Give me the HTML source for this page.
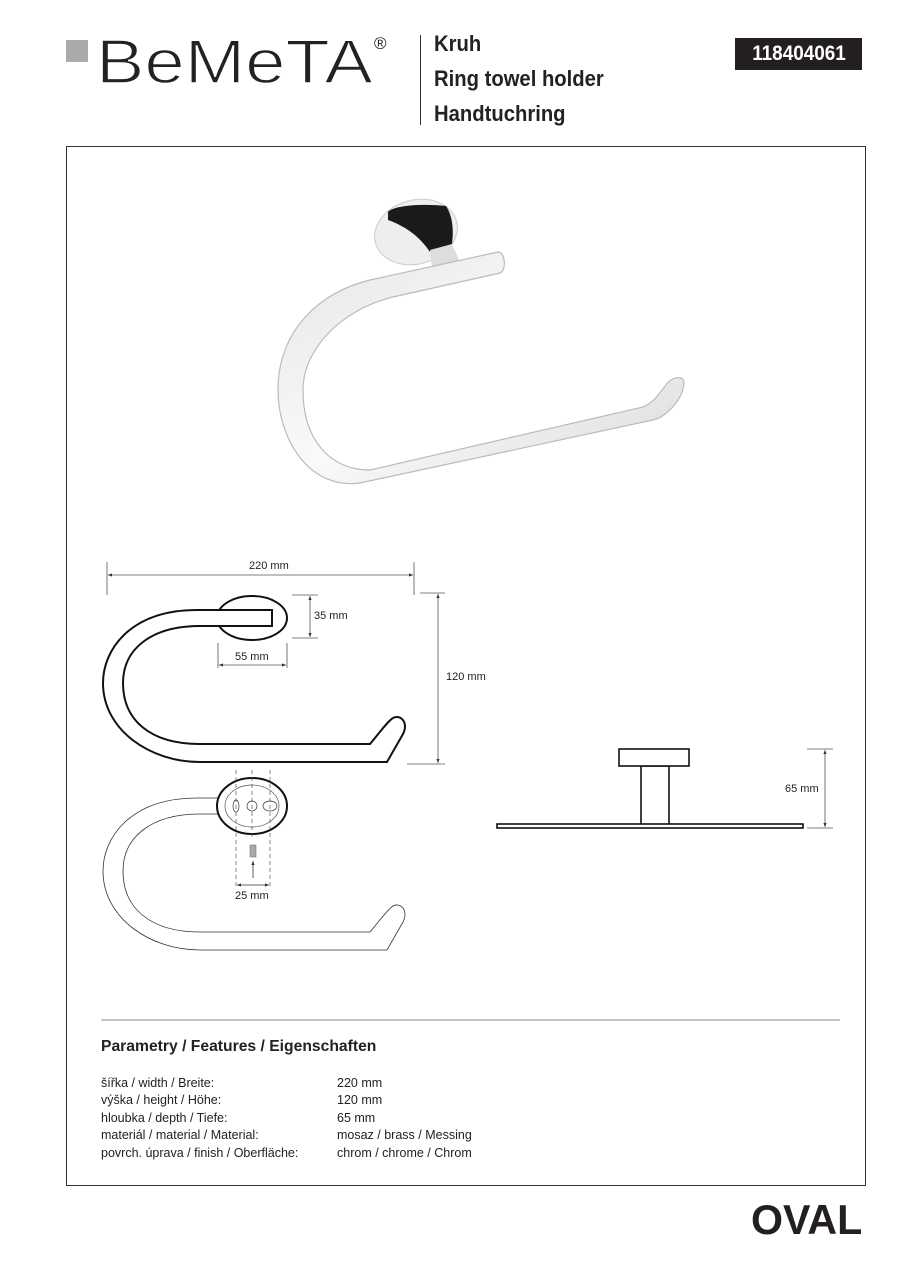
<!DOCTYPE html>
<html><head><meta charset="utf-8"><style>
body{margin:0;background:#fff;}
.p{position:relative;width:905px;height:1280px;overflow:hidden;font-family:"Liberation Sans",sans-serif;color:#222;}
.a{position:absolute;white-space:nowrap;}
.t{font-weight:bold;font-size:22px;transform:scaleX(0.92);transform-origin:left center;color:#222;}
.tb td{font-size:12.5px;padding:0;height:17.5px;}
</style></head><body><div class="p">
<div class="a" style="left:66px;top:40px;width:22px;height:22px;background:#aaa"></div>
<div class="a" style="left:96px;top:30px;font-size:62px;line-height:66px;letter-spacing:0px;color:#222;-webkit-text-stroke:1.5px #fff;transform:scaleX(1.17);transform-origin:left">BeMeTA</div>
<div class="a" style="left:374px;top:34px;font-size:17px">®</div>
<div class="a" style="left:420px;top:35px;width:1px;height:90px;background:#333"></div>
<div class="a t" style="left:434px;top:31px">Kruh</div>
<div class="a t" style="left:434px;top:66px">Ring towel holder</div>
<div class="a t" style="left:434px;top:101px">Handtuchring</div>
<div class="a" style="left:735px;top:38px;width:127px;height:32px;background:#231f20"></div>
<div class="a" style="left:735px;top:38px;width:127px;height:32px;line-height:32px;text-align:center;color:#fff;font-weight:bold;font-size:21px;"><span style="display:inline-block;transform:scaleX(0.9)">118404061</span></div>
<div class="a" style="left:66px;top:146px;width:798px;height:1038px;border:1px solid #333"></div>

<svg class="a" style="left:0;top:0" width="905" height="1280">
<defs>
<linearGradient id="g" x1="0" y1="0" x2="1" y2="1"><stop offset="0" stop-color="#e6e6e6"/><stop offset=".5" stop-color="#fafafa"/><stop offset="1" stop-color="#d8d8d8"/></linearGradient>
<marker id="ar" markerWidth="6" markerHeight="6" refX="5" refY="3" orient="auto-start-reverse"><path d="M0,1 L5,3 L0,5 Z" fill="#333"/></marker>
</defs>
<ellipse cx="416" cy="232" rx="42" ry="32" transform="rotate(-15 416 232)" fill="#eee" stroke="#ccc"/>
<path d="M388,212 C392,206 420,203 446,206 C452,215 454,228 452,244 L430,252 C422,240 410,228 388,220 Z" fill="#1a1a1a"/>
<path d="M430,250 L452,244 L460,262 L432,268 Z" fill="#ddd"/>
<path d="M498,252 C505,252 507,270 500,273 L393,297 C340,310 303,350 303,390 C303,440 330,470 370,470 L643,407 C655,402 660,392 666,385 C672,376 684,375 684,383 C683,400 665,418 653,420 L360,483 C310,490 278,440 278,390 C278,330 320,292 370,280 Z" fill="url(#g)" stroke="#bbb" stroke-width="1.2"/>
<g fill="none" stroke="#111" stroke-width="2">
<ellipse cx="252" cy="618" rx="35" ry="22"/>
<path d="M272,610 L197,610 C130,610 103,650 103,683 C103,730 150,762 200,762 L387,762 L403,734 C409,722 400,714 393,718 C388,721 380,732 370,744 L200,744 C150,744 123,720 123,683 C123,650 150,626 200,626 L272,626 Z" fill="#fff"/>
</g>
<g stroke="#555" stroke-width="0.8" fill="none">
<line x1="107" y1="562" x2="107" y2="595"/><line x1="414" y1="562" x2="414" y2="595"/>
<line x1="108" y1="575" x2="413" y2="575" marker-start="url(#ar)" marker-end="url(#ar)"/>
<line x1="292" y1="595" x2="318" y2="595"/><line x1="292" y1="638" x2="318" y2="638"/>
<line x1="310" y1="596" x2="310" y2="637" marker-start="url(#ar)" marker-end="url(#ar)"/>
<line x1="218" y1="643" x2="218" y2="668"/><line x1="287" y1="643" x2="287" y2="668"/>
<line x1="219" y1="665" x2="286" y2="665" marker-start="url(#ar)" marker-end="url(#ar)"/>
<line x1="420" y1="593" x2="445" y2="593"/><line x1="407" y1="764" x2="445" y2="764"/>
<line x1="438" y1="594" x2="438" y2="763" marker-start="url(#ar)" marker-end="url(#ar)"/>
</g>
<g font-family="Liberation Sans,sans-serif" font-size="11" fill="#222">
<text x="249" y="569">220 mm</text><text x="314" y="619">35 mm</text><text x="235" y="660">55 mm</text><text x="446" y="680">120 mm</text>
<text x="235" y="899">25 mm</text><text x="785" y="792">65 mm</text>
</g>
<path d="M272,798 L197,798 C130,798 103,838 103,871 C103,918 150,950 200,950 L387,950 L403,922 C409,910 400,902 393,906 C388,909 380,920 370,932 L200,932 C150,932 123,908 123,871 C123,838 150,814 200,814 L272,814" fill="none" stroke="#333" stroke-width="0.8"/>
<ellipse cx="252" cy="806" rx="35" ry="28" fill="#fff" stroke="#111" stroke-width="2"/>
<ellipse cx="252" cy="806" rx="27" ry="21" fill="none" stroke="#555" stroke-width="0.7"/>
<ellipse cx="236" cy="806" rx="3" ry="6" fill="none" stroke="#333" stroke-width="0.7"/>
<circle cx="252" cy="806" r="5" fill="none" stroke="#333" stroke-width="0.7"/>
<ellipse cx="270" cy="806" rx="7" ry="5" fill="none" stroke="#333" stroke-width="0.7"/>
<g stroke="#555" stroke-width="0.7" stroke-dasharray="4,3"><line x1="236" y1="770" x2="236" y2="888"/><line x1="252" y1="770" x2="252" y2="840"/><line x1="270" y1="770" x2="270" y2="888"/></g>
<rect x="250" y="845" width="6" height="12" fill="#aaa" stroke="#666" stroke-width="0.5"/>
<line x1="253" y1="878" x2="253" y2="861" stroke="#333" stroke-width="0.8" marker-end="url(#ar)"/>
<line x1="237" y1="885" x2="269" y2="885" stroke="#333" stroke-width="0.8" marker-start="url(#ar)" marker-end="url(#ar)"/>
<g fill="#fff" stroke="#111" stroke-width="1.6">
<rect x="641" y="766" width="28" height="59"/>
<rect x="619" y="749" width="70" height="17"/>
<rect x="497" y="824" width="306" height="4"/>
</g>
<g stroke="#555" stroke-width="0.8"><line x1="807" y1="749" x2="833" y2="749"/><line x1="807" y1="828" x2="833" y2="828"/>
<line x1="825" y1="750" x2="825" y2="827" marker-start="url(#ar)" marker-end="url(#ar)"/></g>
<line x1="101" y1="1020" x2="840" y2="1020" stroke="#888" stroke-width="1"/>
</svg>

<div class="a" style="left:101px;top:1038px;font-weight:bold;font-size:16px;transform:scaleX(0.98);transform-origin:left">Parametry / Features / Eigenschaften</div>
<table class="a tb" style="left:101px;top:1074px;border-collapse:collapse">
<tr><td style="width:236px">šířka / width / Breite:</td><td>220 mm</td></tr>
<tr><td>výška / height / Höhe:</td><td>120 mm</td></tr>
<tr><td>hloubka / depth / Tiefe:</td><td>65 mm</td></tr>
<tr><td>materiál / material / Material:</td><td>mosaz / brass / Messing</td></tr>
<tr><td>povrch. úprava / finish / Oberfläche:</td><td>chrom / chrome / Chrom</td></tr>
</table>
<div class="a" style="left:751px;top:1196px;font-weight:bold;font-size:42px;color:#231f20;transform:scaleX(0.98);transform-origin:left">OVAL</div>
</div></body></html>
